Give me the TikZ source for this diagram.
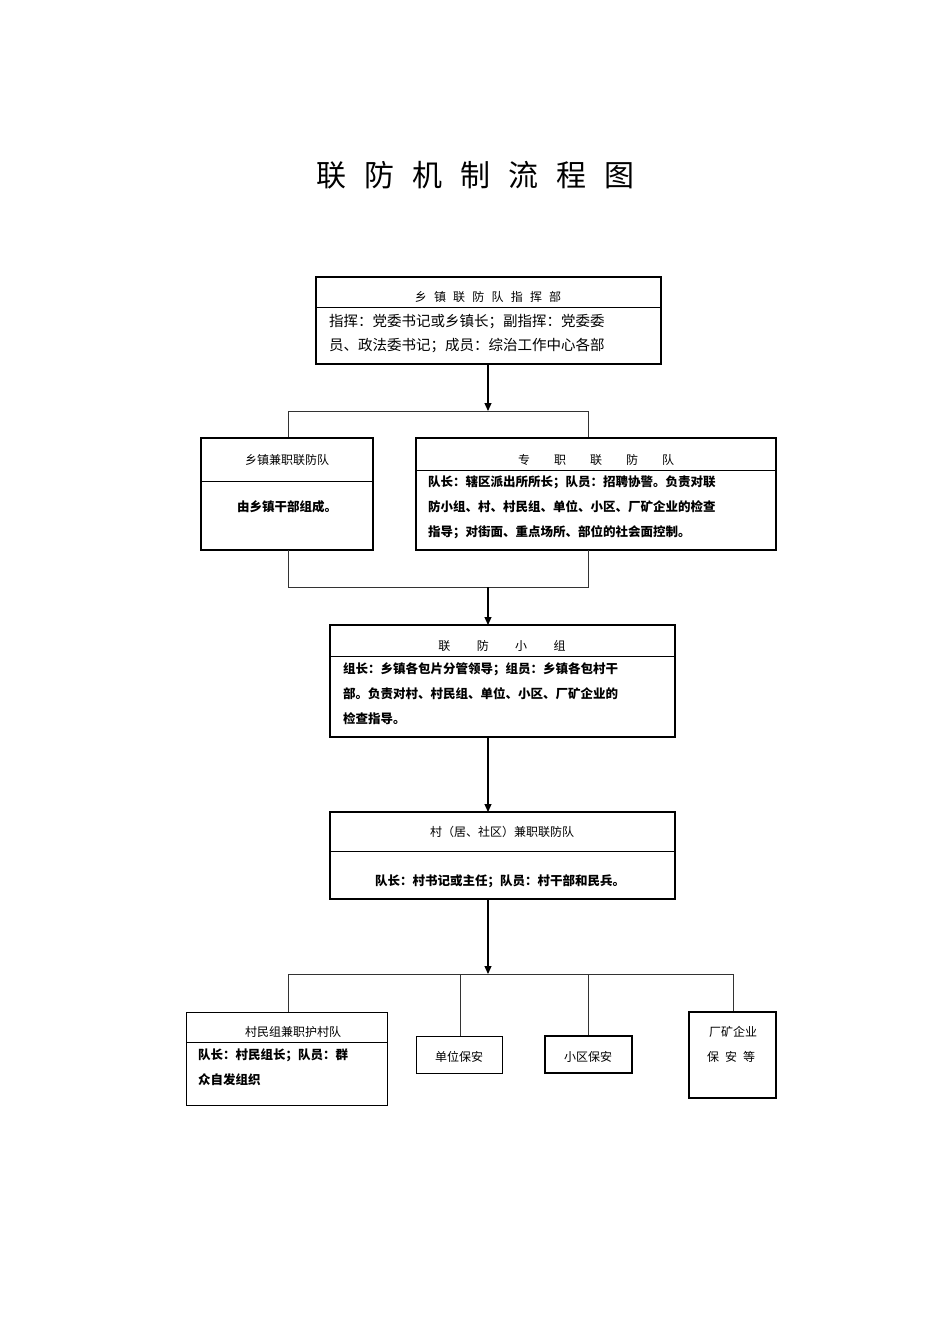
\documentclass[tikz,border=0pt]{standalone}
\usepackage{fontspec}
\setmainfont{Noto Sans CJK SC}
\newfontfamily\cjkb{Noto Sans CJK SC Bold}
\usetikzlibrary{arrows.meta}
\begin{document}
\begin{tikzpicture}[x=1pt,y=-1pt,
  box/.style={draw,line width=1.2pt,inner sep=0pt},
  ln/.style={draw,line width=0.9pt,gray!40!black},
  arr/.style={draw,line width=1.1pt,-{Triangle[length=8pt,width=7pt]}},
  t/.style={font=\fontsize{12}{14}\selectfont,inner sep=0pt},
  tb/.style={font=\fontsize{12.5}{14}\selectfont\bfseries,inner sep=0pt,anchor=west},
  tr/.style={font=\fontsize{14.5}{16}\selectfont,inner sep=0pt,anchor=west}]
\useasboundingbox (0,0) rectangle (950,1344);
\node[font=\fontsize{30}{32}\selectfont] (title) at (475,175) {联\hspace{0.6em}防\hspace{0.6em}机\hspace{0.6em}制\hspace{0.6em}流\hspace{0.6em}程\hspace{0.6em}图};
% box 1
\draw[box] (316,277) rectangle (661,364); \draw[line width=0.9pt] (316,307)--(661,307);
\coordinate (b1s) at (488,364);
\node[t] (b1t) at (488,297) {乡\hspace{0.6em}镇\hspace{0.6em}联\hspace{0.6em}防\hspace{0.6em}队\hspace{0.6em}指\hspace{0.6em}挥\hspace{0.6em}部};
\node[tr] (b1a) at (329,322) {指挥：党委书记或乡镇长；副指挥：党委委};
\node[tr] (b1b) at (329,346) {员、政法委书记；成员：综治工作中心各部};
% split 1
\coordinate (s1) at (488,411); \coordinate (s1l) at (288,411); \coordinate (s1r) at (588,411);
\coordinate (b2n) at (288,438); \coordinate (b3n) at (588,438);
\draw[arr] (b1s)--(s1);
\draw[ln] (b2n)--(s1l)--(s1r)--(b3n);
% box 2
\draw[box] (201,438) rectangle (373,550); \draw[line width=0.9pt] (201,481)--(373,481);
\node[t] (b2t) at (287,460) {乡镇兼职联防队};
\node[tb,anchor=center] (b2b) at (287,507) {由乡镇干部组成。};
% box 3
\draw[box] (416,438) rectangle (776,550); \draw[line width=0.9pt] (416,470)--(776,470);
\node[t] (b3t) at (596,460) {专\hspace{2em}职\hspace{2em}联\hspace{2em}防\hspace{2em}队};
\node[tb] (b3a) at (428,482) {队长：辖区派出所所长；队员：招聘协警。负责对联};
\node[tb] (b3b) at (428,507) {防小组、村、村民组、单位、小区、厂矿企业的检查};
\node[tb] (b3c) at (428,532) {指导；对街面、重点场所、部位的社会面控制。};
% merge
\coordinate (b2s) at (288,550); \coordinate (b3s) at (588,550);
\coordinate (m1l) at (288,587); \coordinate (m1r) at (588,587); \coordinate (m1) at (488,587);
\draw[ln] (b2s)--(m1l)--(m1r)--(b3s);
\coordinate (b4n) at (488,625);
\draw[arr] (m1)--(b4n);
% box 4
\draw[box] (330,625) rectangle (675,737); \draw[line width=0.9pt] (330,656)--(675,656);
\node[t] (b4t) at (502,646) {联\hspace{2.2em}防\hspace{2.2em}小\hspace{2.2em}组};
\node[tb] (b4a) at (343,669) {组长：乡镇各包片分管领导；组员：乡镇各包村干};
\node[tb] (b4b) at (343,694) {部。负责对村、村民组、单位、小区、厂矿企业的};
\node[tb] (b4c) at (343,719) {检查指导。};
\coordinate (b4s) at (488,737); \coordinate (b5n) at (488,812);
\draw[arr] (b4s)--(b5n);
% box 5
\draw[box] (330,812) rectangle (675,899); \draw[line width=0.9pt] (330,851)--(675,851);
\node[t] (b5t) at (502,832) {村（居、社区）兼职联防队};
\node[tb,anchor=center] (b5b) at (500,881) {队长：村书记或主任；队员：村干部和民兵。};
\coordinate (b5s) at (488,899); \coordinate (s2) at (488,974);
\draw[arr] (b5s)--(s2);
\coordinate (s2l) at (288,974); \coordinate (s2r) at (733,974);
\coordinate (c1n) at (288,1012); \coordinate (c2n) at (460,1036);
\coordinate (c3n) at (588,1036); \coordinate (c4n) at (733,1012);
\draw[ln] (c1n)--(s2l)--(s2r)--(c4n);
\draw[ln] (460,974)--(c2n); \draw[ln] (588,974)--(c3n);
% bottom boxes
\draw[box,line width=1pt] (186,1012) rectangle (387,1105); \draw[line width=0.9pt] (186,1042)--(387,1042);
\node[t] (c1t) at (293,1032) {村民组兼职护村队};
\node[tb] (c1a) at (198,1055) {队长：村民组长；队员：群};
\node[tb] (c1b) at (198,1080) {众自发组织};
\draw[box,line width=1pt] (416,1036) rectangle (502,1073);
\node[t] (c2) at (459,1057) {单位保安};
\draw[box,line width=1.3pt] (545,1036) rectangle (632,1073);
\node[t] (c3) at (588,1057) {小区保安};
\draw[box,line width=1.3pt] (689,1012) rectangle (776,1098);
\node[t] (c4a) at (733,1032) {厂矿企业};
\node[t] (c4b) at (731,1057) {保\hspace{0.5em}安\hspace{0.5em}等};
\end{tikzpicture}
\end{document}
